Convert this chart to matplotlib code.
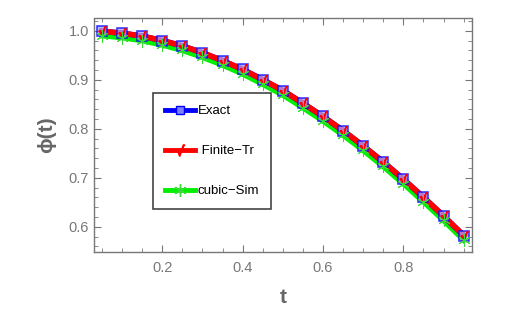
import matplotlib.pyplot as plt
from matplotlib.ticker import MultipleLocator

plt.rcParams['font.family'] = ['Liberation Sans', 'DejaVu Sans']

t = [0.05, 0.10, 0.15, 0.20, 0.25, 0.30, 0.35, 0.40, 0.45, 0.50,
     0.55, 0.60, 0.65, 0.70, 0.75, 0.80, 0.85, 0.90, 0.95]
exact = [0.999, 0.995, 0.989, 0.980, 0.969, 0.955, 0.939, 0.921, 0.900, 0.878,
         0.852, 0.825, 0.796, 0.765, 0.732, 0.697, 0.660, 0.622, 0.582]
finite_tr = [0.999, 0.995, 0.989, 0.980, 0.969, 0.955, 0.939, 0.921, 0.900, 0.878,
             0.852, 0.825, 0.796, 0.765, 0.732, 0.697, 0.660, 0.622, 0.582]
cubic_sim = [0.990, 0.986, 0.980, 0.971, 0.960, 0.946, 0.930, 0.912, 0.891, 0.869,
             0.843, 0.816, 0.787, 0.756, 0.723, 0.688, 0.651, 0.613, 0.573]
labels = ['Exact', ' Finite\u2212Tr', 'cubic\u2212Sim']

SQRT = '$\u221a$'

fig = plt.figure(figsize=(5.19, 3.12), dpi=100)
ax = fig.add_axes([94 / 519, 1 - 251.7 / 312, (471.7 - 94) / 519, (251.7 - 18.5) / 312])

# lines first, markers on top
ax.plot(t, cubic_sim, color='#00ee00', lw=4, zorder=2)
ax.plot(t, exact, color='blue', lw=4, zorder=3)
ax.plot(t, finite_tr, color='red', lw=4, zorder=4)
ax.plot(t, exact, ls='none', marker='s', ms=6.5, mfc='#a0a0ff', mec='blue', mew=1.2, alpha=0.75, zorder=5)
ax.plot(t, finite_tr, ls='none', marker=SQRT, ms=7, color='red', zorder=6)
ax.plot(t, cubic_sim, ls='none', marker=(6, 2, 0), ms=9, color='#33dd33', mew=0.7, zorder=7)

# legend handles
h1, = ax.plot([], [], color='blue', lw=3.5, marker='s', ms=6, mfc='#8080ff', mec='blue')
h2, = ax.plot([], [], color='red', lw=3.5, marker=SQRT, ms=8, mfc='red', mec='red')
h3, = ax.plot([], [], color='#00ee00', lw=3.5, marker=(6, 2, 0), ms=9, mec='#33dd33')
leg = ax.legend([h1, h2, h3], labels,
                loc='upper left', bbox_to_anchor=(0.156, 0.68), fancybox=False,
                edgecolor='#444444', framealpha=1, fontsize=9.5, labelspacing=2.1,
                handlelength=2.3, handletextpad=0.2, borderpad=0.9, borderaxespad=0)
leg.get_frame().set_linewidth(1.2)

ax.set_xlim(0.03, 0.97)
ax.set_ylim(0.549, 1.025)
ax.xaxis.set_major_locator(MultipleLocator(0.2))
ax.xaxis.set_minor_locator(MultipleLocator(0.05))
ax.yaxis.set_major_locator(MultipleLocator(0.1))
ax.yaxis.set_minor_locator(MultipleLocator(0.02))
ax.tick_params(which='both', direction='in', top=True, right=True, color='#777777',
               labelcolor='#777777', labelsize=10.5)
ax.tick_params(which='major', length=5)
ax.tick_params(which='minor', length=3)
ax.tick_params(axis='x', pad=7)
ax.tick_params(labeltop=False, labelright=False)
for s in ax.spines.values():
    s.set_color('#777777')
    s.set_linewidth(1)

ax.set_xlabel('t', fontsize=15, fontweight='bold', color='#666666', labelpad=9)
ax.set_ylabel('\u03d5(t)', fontsize=15, fontweight='bold', color='#666666', labelpad=9)

fig.savefig('out.png', dpi=100)
